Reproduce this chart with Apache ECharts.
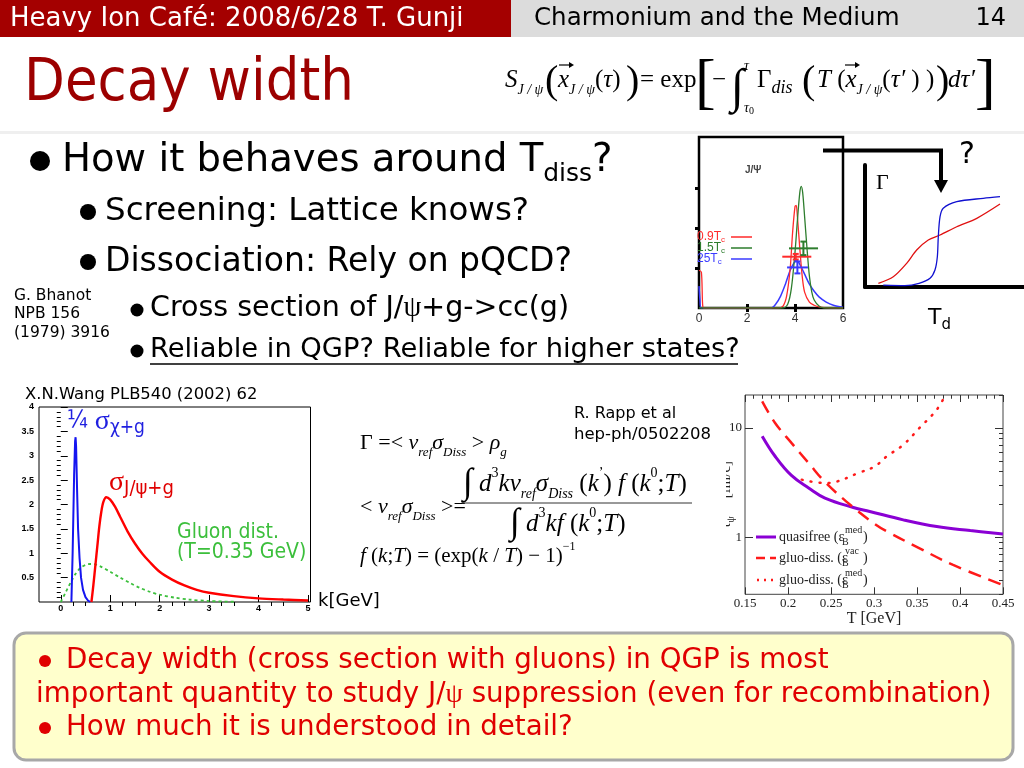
<!DOCTYPE html>
<html><head><meta charset="utf-8">
<script src="https://cdn.jsdelivr.net/npm/echarts@6/dist/echarts.min.js"></script>
<style>html,body{margin:0;padding:0;background:#fff}#c{width:1024px;height:768px}</style>
</head><body><div id="c"></div>
<script>
// ---------------- data ----------------
// X.N.Wang panel: k [GeV] vs cross section / distribution
const wangXTicks = [0, 1, 2, 3, 4, 5];
const wangYTicks = [0.5, 1, 1.5, 2, 2.5, 3, 3.5, 4];
const sigmaChi = [[0.215,0],[0.24,1.0],[0.27,2.6],[0.29,3.3],[0.30,3.38],[0.31,3.2],[0.33,2.3],[0.35,1.5],[0.38,0.9],[0.41,0.5],[0.45,0.25],[0.50,0.1],[0.55,0.03],[0.60,0]];
const sigmaJpsi = [[0.62,0],[0.66,0.35],[0.70,0.75],[0.74,1.15],[0.78,1.55],[0.82,1.85],[0.86,2.05],[0.92,2.15],[1.0,2.1],[1.1,1.95],[1.2,1.75],[1.35,1.45],[1.5,1.2],[1.65,0.99],[1.8,0.82],[2.0,0.62],[2.25,0.46],[2.5,0.34],[2.75,0.25],[3.0,0.19],[3.5,0.12],[4.0,0.075],[4.5,0.05],[5.0,0.03]];
const gluonDist = [[0,0],[0.1,0.2],[0.2,0.4],[0.3,0.58],[0.4,0.7],[0.5,0.76],[0.6,0.78],[0.7,0.77],[0.8,0.73],[1.0,0.62],[1.2,0.5],[1.4,0.39],[1.6,0.29],[1.8,0.21],[2.0,0.15],[2.3,0.09],[2.6,0.05],[3.0,0.02],[3.5,0.005]];

// Rapp panel: T [GeV] vs tau_psi^diss [fm/c] (log)
const rappXTicks = [0.15, 0.2, 0.25, 0.3, 0.35, 0.4, 0.45];
const rappYTicks = [1, 10];
const rappYMinor = [0.3,0.4,0.5,0.6,0.7,0.8,0.9,2,3,4,5,6,7,8,9,20];
const quasifree = [[0.17,8.4],[0.185,5.5],[0.204,3.67],[0.224,2.82],[0.243,2.28],[0.276,1.87],[0.295,1.72],[0.334,1.44],[0.373,1.25],[0.412,1.15],[0.45,1.07]];
const gluoVac = [[0.17,17.5],[0.185,11.1],[0.204,7.3],[0.224,4.77],[0.243,3.2],[0.276,1.87],[0.301,1.32],[0.315,1.13],[0.353,0.79],[0.392,0.557],[0.45,0.365]];
const gluoMed = [[0.216,3.36],[0.243,3.13],[0.255,3.2],[0.282,3.87],[0.301,4.45],[0.315,5.5],[0.334,7.0],[0.353,10],[0.373,14.7],[0.383,20]];

// lattice spectral function panel
const specXTicks = [0, 2, 4, 6];
const specYTicks = [1, 2, 3];
const spec09 = [[0,0.95],[0.1,0.9],[0.15,0.1],[0.2,0],[3.3,0],[3.5,0.05],[3.65,0.3],[3.8,1.0],[3.9,1.9],[4.0,2.55],[4.05,2.58],[4.1,2.3],[4.2,1.5],[4.3,0.8],[4.4,0.4],[4.6,0.15],[4.8,0.07],[5.0,0.03],[5.5,0],[6,0]];
const spec15 = [[0,0],[3.5,0],[3.7,0.1],[3.85,0.5],[4.0,1.4],[4.1,2.2],[4.2,2.9],[4.26,3.06],[4.32,2.9],[4.4,2.3],[4.5,1.5],[4.6,0.8],[4.7,0.4],[4.8,0.2],[5.0,0.05],[5.2,0],[6,0]];
const spec225 = [[0,0.55],[0.04,0.2],[0.08,0],[3.0,0],[3.2,0.1],[3.4,0.3],[3.6,0.6],[3.8,0.95],[4.0,1.18],[4.06,1.21],[4.2,1.1],[4.4,0.85],[4.6,0.6],[4.8,0.42],[5.0,0.28],[5.3,0.15],[5.6,0.07],[6,0.02]];
// [x, y, xLow, xHigh, yLow, yHigh]
const specErr = [[4.03,1.29,3.47,4.68,1.22,1.36],[4.35,1.5,3.75,4.96,1.33,1.67],[4.1,1.02,3.67,4.54,0.87,1.17]];
const specNames = ['0.9T', '1.5T', '25T'];

// Gamma vs T sketch (arbitrary units)
const sketchRed = [[0.84,0.30],[1.78,0.84],[2.62,1.94],[3.25,3.03],[3.98,3.85],[4.72,4.26],[5.77,4.94],[7.03,5.63],[8.49,6.80]];
const sketchBlue = [[1.15,0.16],[2.5,0.12],[3.4,0.3],[4.09,0.71],[4.40,1.39],[4.55,2.48],[4.61,4.12],[4.72,5.76],[4.92,6.45],[5.77,6.99],[7.44,7.27],[8.49,7.40]];

// ---------------- styling helpers ----------------
const SANS = '"DejaVu Sans Condensed","DejaVu Sans",sans-serif';
const SANSW = '"DejaVu Sans",sans-serif';
const SERIF = '"Liberation Serif","DejaVu Serif",serif';
const ARIAL = '"Liberation Sans",Arial,sans-serif';
const C_RED = '#e00000', C_BLUE = '#1f1fe0', C_GREEN = '#3cbf3c';
const C_SPEC = ['#ff2a2a', '#2d7d2d', '#3a3aff'];

function minorList(lo, hi, step, skipEvery) {
  const out = [];
  for (let i = 0; lo + i * step <= hi + 1e-9; i++) {
    if (i % skipEvery !== 0) out.push(+(lo + i * step).toFixed(4));
  }
  return out;
}
const wangXMinor = minorList(-0.25, 5, 0.25, 4).filter(v => Math.abs(v - Math.round(v)) > 1e-6);
const wangYMinor = minorList(0, 4, 0.1, 5);
const rappXMinor = minorList(0.15, 0.45, 0.01, 5);

function T(x, y, text, o) {
  return {type: 'text', x: x, y: y, z: 10, silent: true,
    style: Object.assign({text: text, fill: '#000', fontFamily: SANSW, fontSize: 20, textAlign: 'left', textVerticalAlign: 'middle'}, o || {})};
}
function dot(cx, cy, r, c) { return {type: 'circle', z: 10, silent: true, shape: {cx: cx, cy: cy, r: r}, style: {fill: c || '#000'}}; }
function seg(x1, y1, x2, y2, c, w, dash) { return {type: 'line', z: 10, silent: true, shape: {x1: x1, y1: y1, x2: x2, y2: y2}, style: {stroke: c || '#000', lineWidth: w || 1, lineDash: dash || null}}; }

function axisBase(extra) {
  return Object.assign({type: 'value', splitLine: {show: false}, axisLine: {show: false},
    axisLabel: {show: false}, axisTick: {show: false}}, extra);
}
function ticks(vals, len, color, width) {
  return {show: true, inside: true, length: len, customValues: vals, lineStyle: {color: color || '#000', width: width || 1}};
}

function mathRich(base, subScale) {
  const s = Math.round(base * (subScale || 0.58));
  return {
    rm: {fontFamily: SERIF, fontSize: base, lineHeight: base + 10},
    it: {fontFamily: SERIF, fontStyle: 'italic', fontSize: base, lineHeight: base + 10},
    sub: {fontFamily: SERIF, fontStyle: 'italic', fontSize: s, lineHeight: s, verticalAlign: 'bottom'},
    sup: {fontFamily: SERIF, fontSize: s, lineHeight: s, verticalAlign: 'top'},
    int: {fontFamily: SERIF, fontSize: Math.round(base * 1.45), lineHeight: base + 10}
  };
}

// ---------------- graphic (slide text & decorations) ----------------
const g = [];
// header
g.push({type: 'rect', z: 1, silent: true, shape: {x: 0, y: 0, width: 511, height: 37}, style: {fill: '#a40000'}});
g.push({type: 'rect', z: 1, silent: true, shape: {x: 511, y: 0, width: 513, height: 37}, style: {fill: '#dcdcdc'}});
g.push({type: 'rect', z: 1, silent: true, shape: {x: 0, y: 131, width: 1024, height: 3}, style: {fill: '#efefef'}});
g.push(T(10, 19, 'Heavy Ion Café: 2008/6/28 T. Gunji', {fill: '#fff', fontSize: 26}));
g.push(T(534, 19, 'Charmonium and the Medium', {fontSize: 24.5}));
g.push(T(1006, 19, '14', {fontSize: 24, textAlign: 'right'}));
// title
g.push(T(24, 85, 'Decay width', {fill: '#9c0000', fontFamily: SANS, fontSize: 59}));

// survival-probability formula, piece by piece
const fr = mathRich(25);
const FY = 80;
g.push(T(505, FY, '{it|S}{sub|J / ψ}', {rich: fr}));
g.push(T(545, FY + 2, '(', {fontFamily: SERIF, fontSize: 40}));
g.push(T(558, FY, '{it|x}{sub|J / ψ}{rm|(}{it|τ}{rm|)}', {rich: fr}));
g.push(T(626, FY + 2, ')', {fontFamily: SERIF, fontSize: 40}));
g.push(T(640, FY, '= exp', {fontFamily: SERIF, fontSize: 25}));
g.push(T(695, FY + 6, '[', {fontFamily: SERIF, fontSize: 62, fontWeight: 'lighter'}));
g.push(T(712, FY, '−', {fontFamily: SERIF, fontSize: 25}));
g.push(T(731, FY + 9, '∫', {fontFamily: SERIF, fontSize: 48}));
g.push(T(744, 66, 'τ', {fontFamily: SERIF, fontStyle: 'italic', fontSize: 14}));
g.push(T(744, 108, '{a|τ}{b|0}', {rich: {a: {fontFamily: SERIF, fontStyle: 'italic', fontSize: 14, lineHeight: 16}, b: {fontFamily: SERIF, fontSize: 10, lineHeight: 10, verticalAlign: 'bottom'}}}));
g.push(T(757, FY, '{rm|Γ}{sub|dis}', {rich: mathRich(25, 0.7)}));
g.push(T(802, FY + 2, '(', {fontFamily: SERIF, fontSize: 40}));
g.push(T(817, FY, '{it|T}{rm| (}{it|x}{sub|J / ψ}{rm|(}{it|τ′}{rm| ) )}', {rich: fr}));
g.push(T(936, FY + 2, ')', {fontFamily: SERIF, fontSize: 40}));
g.push(T(948, FY, 'dτ′', {fontFamily: SERIF, fontStyle: 'italic', fontSize: 25}));
g.push(T(975, FY + 6, ']', {fontFamily: SERIF, fontSize: 62, fontWeight: 'lighter'}));
// vector arrows over the two x
[[559, 572], [845, 858]].forEach(function (a) {
  g.push(seg(a[0], 65, a[1], 65, '#000', 1.2));
  g.push({type: 'polygon', z: 10, silent: true, shape: {points: [[a[1] + 2, 65], [a[1] - 3, 62], [a[1] - 3, 68]]}, style: {fill: '#000'}});
});

// bullets
g.push(dot(40, 161, 10));
g.push(T(62, 161, '{m|How it behaves around T}{s|diss}{m|?}', {rich: {m: {fontFamily: SANSW, fontSize: 38.6, lineHeight: 52}, s: {fontFamily: SANSW, fontSize: 25, lineHeight: 25, verticalAlign: 'bottom'}}}));
g.push(dot(88, 212, 8));
g.push(T(105, 212, 'Screening: Lattice knows?', {fontSize: 32.5}));
g.push(dot(88, 262, 8));
g.push(T(105, 262, 'Dissociation: Rely on pQCD?', {fontSize: 33}));
g.push(T(14, 296, 'G. Bhanot', {fontSize: 15.5}));
g.push(T(14, 314, 'NPB 156', {fontSize: 15.5}));
g.push(T(14, 333, '(1979) 3916', {fontSize: 15.5}));
g.push(dot(137, 310, 6.5));
g.push(T(150, 309, '{m|Cross section of J/}{p|ψ}{m|+g->cc(g)}', {rich: {m: {fontFamily: SANSW, fontSize: 28.5}, p: {fontFamily: SERIF, fontSize: 28.5}}}));
g.push(dot(137, 351, 6.5));
g.push(T(150, 350, 'Reliable in QGP? Reliable for higher states?', {fontSize: 27.3}));
g.push(seg(150, 364, 738, 364, '#000', 1.5));

// X.N.Wang labels
g.push(T(25, 395, 'X.N.Wang PLB540 (2002) 62', {fontSize: 16.4}));
g.push(T(67, 422, '{a|¼ }{s|σ}{b|χ+g}', {rich: {a: {fontFamily: SANS, fontSize: 24, lineHeight: 32, fill: C_BLUE}, s: {fontFamily: SERIF, fontSize: 28, lineHeight: 32, fill: C_BLUE}, b: {fontFamily: SANS, fontSize: 19, lineHeight: 19, verticalAlign: 'bottom', fill: C_BLUE}}}));
g.push(T(109, 483, '{s|σ}{b|J/ψ+g}', {rich: {s: {fontFamily: SERIF, fontSize: 28, lineHeight: 32, fill: C_RED}, b: {fontFamily: SANS, fontSize: 20, lineHeight: 20, verticalAlign: 'bottom', fill: C_RED}}}));
g.push(T(177, 533, 'Gluon dist.', {fill: C_GREEN, fontFamily: SANS, fontSize: 21}));
g.push(T(177, 553, '(T=0.35 GeV)', {fill: C_GREEN, fontFamily: SANS, fontSize: 21}));
g.push(T(318, 601, 'k[GeV]', {fontSize: 18}));

// gamma formulas
const mr = mathRich(22);
const mr25 = mathRich(25);
g.push(T(360, 443, '{rm|Γ =< }{it|v}{sub|ref}{it|σ}{sub|Diss}{rm| > }{it|ρ}{sub|g}', {rich: mr}));
g.push(T(360, 507, '{rm|< }{it|v}{sub|ref}{it|σ}{sub|Diss}{rm| >=}', {rich: mr}));
g.push(T(463, 484, '{int|∫}{it| d}{sup|3}{it|kv}{sub|ref}{it|σ}{sub|Diss}{rm| (}{it|k}{sup|’}{rm|) }{it|f}{rm| (}{it|k}{sup|0}{rm|;}{it|T}{rm|)}', {rich: mr25}));
g.push(seg(462, 503, 692, 503, '#333', 1));
g.push(T(510, 524, '{int|∫}{it| d}{sup|3}{it|kf}{rm| (}{it|k}{sup|0}{rm|;}{it|T}{rm|)}', {rich: mr25}));
g.push(T(360, 556, '{it|f}{rm| (}{it|k}{rm|;}{it|T}{rm|) = (exp(}{it|k}{rm| / }{it|T}{rm|) − 1)}{sup|−1}', {rich: mathRich(21)}));
g.push(T(574, 414, 'R. Rapp et al', {fontSize: 16}));
g.push(T(574, 435, 'hep-ph/0502208', {fontSize: 16.5}));

// Rapp legend keys
g.push(seg(756, 537, 776, 537, '#8a00d4', 3));
g.push(seg(756, 558, 776, 558, '#ff1a1a', 2.5, [9, 5]));
g.push(seg(757, 580, 776, 580, '#ff1a1a', 2.5, [2, 5]));
const legRows = [[537, 'quasifree (ε', 'med'], [558, 'gluo-diss. (ε', 'vac'], [580, 'gluo-diss. (ε', 'med']];
legRows.forEach(function (r) {
  g.push(T(779, r[0], r[1], {fontFamily: SERIF, fontSize: 14, fill: '#222'}));
  g.push(T(845, r[0] - 7, r[2], {fontFamily: SERIF, fontSize: 10, fill: '#222'}));
  g.push(T(842, r[0] + 5, 'B', {fontFamily: SERIF, fontSize: 10, fill: '#222'}));
  g.push(T(863, r[0], ')', {fontFamily: SERIF, fontSize: 14, fill: '#222'}));
});
// mask mimicking the cropped axis title of the Rapp figure
g.push({type: 'rect', z: 100, silent: true, shape: {x: 700, y: 440, width: 26, height: 110}, style: {fill: '#fff'}});

// spectral panel labels
g.push(T(745, 170, 'J/Ψ', {fontFamily: ARIAL, fontSize: 10, fontWeight: 'bold', fill: '#444'}));
[237, 248, 259].forEach(function (yy, i) {
  g.push(T(697, yy, '{a|' + specNames[i] + '}{b|c}', {rich: {a: {fontFamily: ARIAL, fontSize: 12, lineHeight: 14, fill: C_SPEC[i]}, b: {fontFamily: ARIAL, fontSize: 8, lineHeight: 8, verticalAlign: 'bottom', fill: C_SPEC[i]}}}));
  g.push(seg(731, yy, 752, yy, C_SPEC[i], 1.5));
});

// Gamma sketch decorations
g.push({type: 'polyline', z: 10, silent: true, shape: {points: [[823, 150.5], [941, 150.5], [941, 182]]}, style: {stroke: '#000', lineWidth: 4, fill: null}});
g.push({type: 'polygon', z: 10, silent: true, shape: {points: [[934, 180], [948, 180], [941, 193]]}, style: {fill: '#000'}});
g.push(T(876, 183, 'Γ', {fontFamily: SERIF, fontSize: 22}));
g.push(T(959, 155, '?', {fontSize: 30}));
g.push(T(928, 318, '{a|T}{b|d}', {rich: {a: {fontFamily: SANSW, fontSize: 22, lineHeight: 30}, b: {fontFamily: SANSW, fontSize: 15, lineHeight: 15, verticalAlign: 'bottom'}}}));

// bottom summary box
g.push({type: 'rect', z: 1, silent: true, shape: {x: 14, y: 633, width: 999, height: 127, r: 12}, style: {fill: '#ffffcc', stroke: '#a8a8a8', lineWidth: 3}});
g.push(dot(45, 661, 6, C_RED));
g.push(T(66, 661, 'Decay width (cross section with gluons) in QGP is most', {fill: C_RED, fontSize: 27.7}));
g.push(T(36, 695, '{m|important quantity to study J/}{p|ψ}{m| suppression (even for recombination)}', {rich: {m: {fontFamily: SANSW, fontSize: 27.7, fill: C_RED}, p: {fontFamily: SERIF, fontSize: 27.7, fill: C_RED}}}));
g.push(dot(45, 728, 6, C_RED));
g.push(T(66, 728, 'How much it is understood in detail?', {fill: C_RED, fontSize: 27.7}));

// ---------------- axes ----------------
const tickFontL = {fontSize: 9, fontWeight: 'bold', fontFamily: ARIAL, color: '#000'};
const serifLab = {fontSize: 13, fontFamily: SERIF, color: '#222'};

const xAxis = [
  axisBase({gridIndex: 0, min: -0.44, max: 5.05, axisTick: ticks(wangXTicks, 7),
    axisLabel: Object.assign({show: true, customValues: wangXTicks, margin: 2}, tickFontL)}),
  axisBase({gridIndex: 0, min: -0.44, max: 5.05, axisTick: ticks(wangXMinor, 4)}),
  axisBase({gridIndex: 1, min: 0.15, max: 0.45, axisTick: ticks(rappXTicks, 7, '#333'),
    axisLabel: Object.assign({show: true, customValues: rappXTicks, margin: 3}, serifLab),
    name: 'T [GeV]', nameLocation: 'middle', nameGap: 13, nameTextStyle: {fontFamily: SERIF, fontSize: 16, color: '#222', verticalAlign: 'top'}}),
  axisBase({gridIndex: 1, min: 0.15, max: 0.45, axisTick: ticks(rappXMinor, 3.5, '#333')}),
  axisBase({gridIndex: 1, position: 'top', min: 0.15, max: 0.45, axisTick: ticks(rappXTicks, 7, '#333')}),
  axisBase({gridIndex: 1, position: 'top', min: 0.15, max: 0.45, axisTick: ticks(rappXMinor, 3.5, '#333')}),
  axisBase({gridIndex: 2, min: 0, max: 6, axisTick: ticks([2, 4], 4, '#000', 3),
    axisLabel: {show: true, customValues: specXTicks, margin: 5, fontSize: 12, fontFamily: ARIAL, color: '#333'}}),
  axisBase({gridIndex: 2, position: 'top', min: 0, max: 6, axisTick: ticks([2, 4], 4, '#000', 3)}),
  axisBase({gridIndex: 3, min: 0, max: 10, axisLine: {show: true, lineStyle: {color: '#000', width: 4}}})
];
const yAxis = [
  axisBase({gridIndex: 0, min: 0, max: 4, axisTick: ticks(wangYTicks, 7),
    axisLabel: Object.assign({show: true, customValues: wangYTicks, margin: 5}, tickFontL)}),
  axisBase({gridIndex: 0, min: 0, max: 4, axisTick: ticks(wangYMinor, 4)}),
  axisBase({gridIndex: 1, type: 'log', min: 0.3, max: 20, axisTick: ticks(rappYTicks, 8, '#333'),
    axisLabel: Object.assign({show: true, customValues: rappYTicks, margin: 3}, serifLab),
    name: '{t|τ}{s|ψ}{p|diss}{t| [fm/c]}', nameLocation: 'middle', nameGap: 9, nameRotate: 90, nameMoveOverlap: false,
    nameTextStyle: {rich: {t: {fontFamily: SERIF, fontSize: 15, color: '#222', lineHeight: 20}, s: {fontFamily: SERIF, fontSize: 10, color: '#222', lineHeight: 10, verticalAlign: 'bottom'}, p: {fontFamily: SERIF, fontSize: 9, color: '#222', lineHeight: 9, verticalAlign: 'top'}}}}),
  axisBase({gridIndex: 1, type: 'log', min: 0.3, max: 20, axisTick: ticks(rappYMinor, 4, '#333')}),
  axisBase({gridIndex: 1, type: 'log', position: 'right', min: 0.3, max: 20, axisTick: ticks(rappYTicks, 8, '#333')}),
  axisBase({gridIndex: 1, type: 'log', position: 'right', min: 0.3, max: 20, axisTick: ticks(rappYMinor, 4, '#333')}),
  axisBase({gridIndex: 2, min: 0, max: 4.3}),
  axisBase({gridIndex: 2, position: 'right', min: 0, max: 4.3, axisTick: ticks(specYTicks, 4, '#000', 3)}),
  axisBase({gridIndex: 3, min: 0, max: 10, axisLine: {show: true, lineStyle: {color: '#000', width: 4}}})
];

function line(data, xi, yi, color, width, type, smooth) {
  return {type: 'line', data: data, xAxisIndex: xi, yAxisIndex: yi, symbol: 'none', showSymbol: false, silent: true,
    smooth: smooth || false, lineStyle: {color: color, width: width, type: type || 'solid', cap: Array.isArray(type) && type[0] < 3 ? 'round' : 'butt'},
    z: 3};
}

const series = [
  line(gluonDist, 0, 0, C_GREEN, 1.8, [3, 3], 0.3),
  line(sigmaChi, 0, 0, '#1515f0', 2, 'solid', false),
  line(sigmaJpsi, 0, 0, '#ff0000', 2.4, 'solid', 0.3),
  line(quasifree, 2, 2, '#8a00d4', 3, 'solid', 0.4),
  line(gluoVac, 2, 2, '#ff1a1a', 2.5, [13, 8], 0.4),
  line(gluoMed, 2, 2, '#ff1a1a', 2.5, [1, 8], 0.4),
  line(spec225, 6, 6, C_SPEC[2], 1.5, 'solid', 0.3),
  line(spec09, 6, 6, C_SPEC[0], 1.3, 'solid', 0.3),
  line(spec15, 6, 6, C_SPEC[1], 1.3, 'solid', 0.3),
  {type: 'custom', xAxisIndex: 6, yAxisIndex: 6, data: specErr, silent: true, z: 4,
    encode: {x: 0, y: 1},
    renderItem: function (params, api) {
      const c = C_SPEC[params.dataIndex];
      const y = api.value(1), x = api.value(0);
      const a = api.coord([api.value(2), y]), b = api.coord([api.value(3), y]);
      const lo = api.coord([x, api.value(4)]), hi = api.coord([x, api.value(5)]);
      const st = {stroke: c, lineWidth: 2};
      return {type: 'group', children: [
        {type: 'line', shape: {x1: a[0], y1: a[1], x2: b[0], y2: b[1]}, style: st},
        {type: 'line', shape: {x1: lo[0], y1: lo[1], x2: hi[0], y2: hi[1]}, style: st},
        {type: 'line', shape: {x1: lo[0] - 3, y1: lo[1], x2: lo[0] + 3, y2: lo[1]}, style: st},
        {type: 'line', shape: {x1: hi[0] - 3, y1: hi[1], x2: hi[0] + 3, y2: hi[1]}, style: st}
      ]};
    }},
  line(sketchRed, 8, 8, '#e01010', 1.3, 'solid', 0.3),
  line(sketchBlue, 8, 8, '#1010d0', 1.3, 'solid', 0.3)
];

const option = {
  animation: false,
  backgroundColor: '#ffffff',
  grid: [
    {left: 39, top: 407, width: 271.5, height: 195, show: true, borderColor: '#000', borderWidth: 1, containLabel: false},
    {left: 745, top: 395, width: 258, height: 199.3, show: true, borderColor: '#444', borderWidth: 1, containLabel: false},
    {left: 699, top: 137, width: 144, height: 171, show: true, borderColor: '#000', borderWidth: 2.5, containLabel: false},
    {left: 865, top: 165, width: 159, height: 122, show: false, containLabel: false}
  ],
  xAxis: xAxis,
  yAxis: yAxis,
  series: series,
  graphic: {elements: g}
};

const chart = echarts.init(document.getElementById('c'), null, {renderer: 'canvas'});
chart.setOption(option);
</script>
</body></html>
